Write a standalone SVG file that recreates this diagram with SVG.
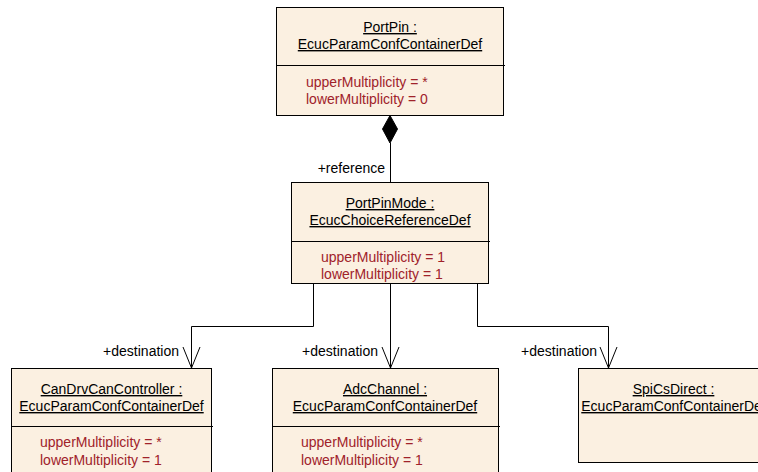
<svg xmlns="http://www.w3.org/2000/svg" width="758" height="472" viewBox="0 0 758 472">
<style>
  .box { fill: #FBF0E1; stroke: #000; stroke-width: 1; }
  .sep { stroke: #000; stroke-width: 1; }
  .title { font-family: "Liberation Sans", Arial, sans-serif; font-size: 14px; fill: #000; text-anchor: middle; text-decoration: underline; }
  .attr { font-family: "Liberation Sans", Arial, sans-serif; font-size: 14px; fill: #A0222A; }
  .lbl { font-family: "Liberation Sans", Arial, sans-serif; font-size: 14px; fill: #000; text-anchor: end; }
  .conn { fill: none; stroke: #000; stroke-width: 1; }
</style>
<rect width="758" height="472" fill="#FFFFFF"/>

<g id="PortPin">
  <rect class="box" x="276.5" y="7.5" width="227" height="108"/>
  <line class="sep" x1="276.5" y1="65.5" x2="505" y2="65.5"/>
  <text class="title" x="390" y="32">PortPin :</text>
  <text class="title" x="390" y="49">EcucParamConfContainerDef</text>
  <text class="attr" x="306" y="87">upperMultiplicity = *</text>
  <text class="attr" x="306" y="104">lowerMultiplicity = 0</text>
</g>

<g id="PortPinMode">
  <rect class="box" x="291.5" y="182.5" width="197" height="101"/>
  <line class="sep" x1="291.5" y1="241.5" x2="490" y2="241.5"/>
  <text class="title" x="390" y="208">PortPinMode :</text>
  <text class="title" x="390" y="225">EcucChoiceReferenceDef</text>
  <text class="attr" x="321" y="262">upperMultiplicity = 1</text>
  <text class="attr" x="321" y="279">lowerMultiplicity = 1</text>
</g>

<g id="CanDrvCanController">
  <rect class="box" x="11.5" y="368.5" width="200" height="110"/>
  <line class="sep" x1="11.5" y1="426.5" x2="213" y2="426.5"/>
  <text class="title" x="111.5" y="394">CanDrvCanController :</text>
  <text class="title" x="111.5" y="411">EcucParamConfContainerDef</text>
  <text class="attr" x="40" y="447">upperMultiplicity = *</text>
  <text class="attr" x="40" y="465">lowerMultiplicity = 1</text>
</g>

<g id="AdcChannel">
  <rect class="box" x="272.5" y="368.5" width="226" height="110"/>
  <line class="sep" x1="272.5" y1="426.5" x2="500" y2="426.5"/>
  <text class="title" x="385" y="394">AdcChannel :</text>
  <text class="title" x="385" y="411">EcucParamConfContainerDef</text>
  <text class="attr" x="301" y="447">upperMultiplicity = *</text>
  <text class="attr" x="301" y="465">lowerMultiplicity = 1</text>
</g>

<g id="SpiCsDirect">
  <rect class="box" x="578.5" y="368.5" width="192" height="94"/>
  <text class="title" x="673.5" y="394">SpiCsDirect :</text>
  <text class="title" x="673.5" y="411">EcucParamConfContainerDef</text>
</g>

<g id="connectors">
  <polygon points="390,115.5 397.5,129 390,143 382.5,129" fill="#000" stroke="#000" stroke-width="1"/>
  <line class="conn" x1="390.5" y1="143" x2="390.5" y2="182"/>
  <text class="lbl" x="385" y="173">+reference</text>

  <polyline class="conn" points="313.5,284 313.5,326.5 191.5,326.5 191.5,368"/>
  <polyline class="conn" points="183,347 191.5,368 200,347"/>
  <text class="lbl" x="179" y="356">+destination</text>

  <line class="conn" x1="390.5" y1="284" x2="390.5" y2="368"/>
  <polyline class="conn" points="382,347 390.5,368 399,347"/>
  <text class="lbl" x="378" y="356">+destination</text>

  <polyline class="conn" points="477.5,284 477.5,326.5 608.5,326.5 608.5,368"/>
  <polyline class="conn" points="600,347 608.5,368 617,347"/>
  <text class="lbl" x="597" y="356">+destination</text>
</g>
</svg>
